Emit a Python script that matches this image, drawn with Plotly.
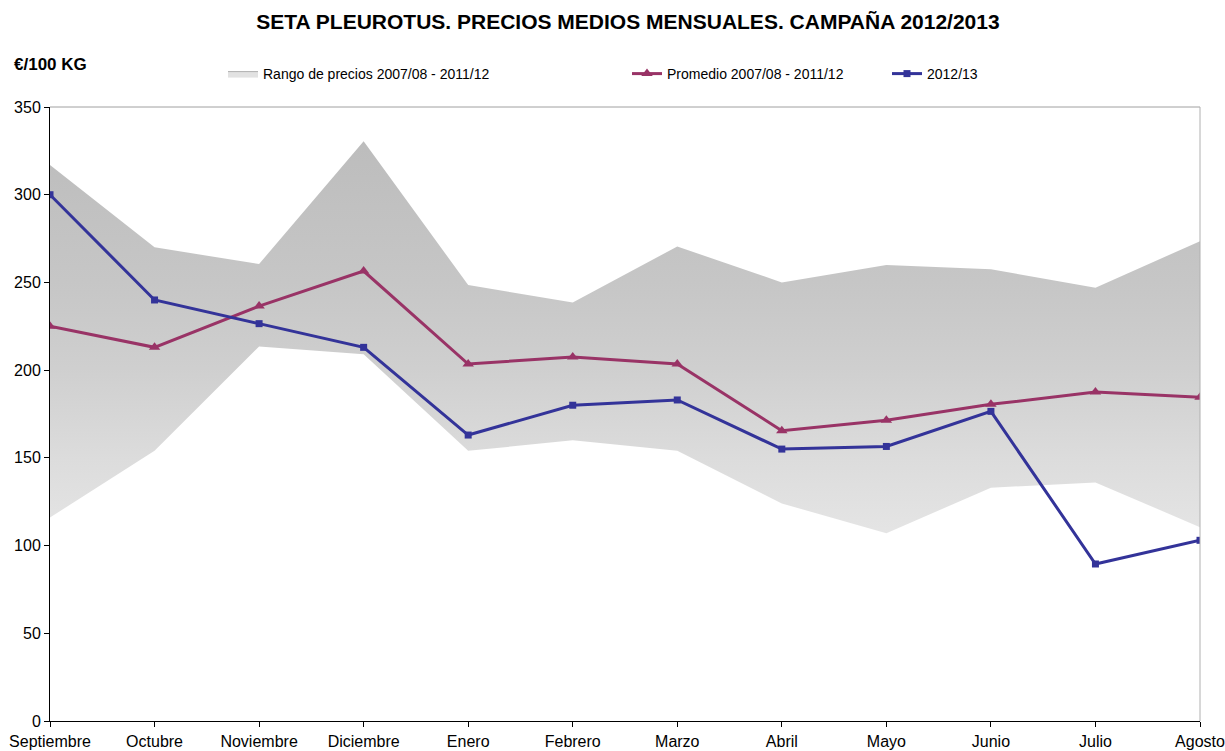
import plotly.graph_objects as go

months = ["Septiembre", "Octubre", "Noviembre", "Diciembre", "Enero", "Febrero",
          "Marzo", "Abril", "Mayo", "Junio", "Julio", "Agosto"]
range_upper = [317, 270, 260.5, 330.5, 248.5, 238.5, 270.5, 250, 260, 257.5, 247, 273.5]
range_lower = [116, 154, 213.5, 209, 154, 160, 154, 124, 107, 133, 136, 110.5]
promedio = [225, 213, 236.5, 256.5, 203.5, 207.5, 203.5, 165.5, 171.5, 180.5, 187.5, 184.5]
campana = [300, 240, 226.5, 213, 163, 180, 183, 155, 156.5, 176.5, 89.5, 103]
y_ticks = [0, 50, 100, 150, 200, 250, 300, 350]

xi = list(range(len(months)))
FONT = "Liberation Sans, Arial"

fig = go.Figure()

fig.add_trace(go.Scatter(
    x=xi + xi[::-1],
    y=range_upper + range_lower[::-1],
    fill="toself",
    mode="lines",
    line=dict(width=0, color="#cccccc"),
    fillcolor="#d0d0d0",
    fillgradient=dict(type="vertical", start=100, stop=335,
                      colorscale=[[0, "#e6e6e6"], [0.21, "#dcdcdc"], [0.43, "#cfcfcf"],
                                  [0.64, "#c6c6c6"], [1, "#bcbcbc"]]),
    showlegend=False,
    hoverinfo="skip",
))

# legend entry for the range band
fig.add_trace(go.Scatter(
    x=[None], y=[None], mode="lines", fill="toself",
    fillcolor="#e2e2e2", line=dict(width=1, color="#b0b0b0"),
    name="Rango de precios 2007/08 - 2011/12",
    legend="legend",
))

fig.add_trace(go.Scatter(
    x=xi, y=promedio, mode="lines+markers",
    line=dict(color="#993366", width=3),
    marker=dict(symbol="triangle-up", size=10, color="#993366"),
    name="Promedio 2007/08 - 2011/12",
    legend="legend2",
))

fig.add_trace(go.Scatter(
    x=xi, y=campana, mode="lines+markers",
    line=dict(color="#333399", width=3),
    marker=dict(symbol="square", size=7, color="#333399"),
    name="2012/13",
    legend="legend3",
))

W, H = 1225, 751
ml, mr, mt, mb = 50, 25, 107, 30
pw = W - ml - mr

legend_common = dict(orientation="h", yanchor="middle", xanchor="left",
                     xref="container", yref="container", y=1 - 74 / H,
                     font=dict(family=FONT, size=14, color="#000"),
                     bgcolor="rgba(0,0,0,0)", itemwidth=30, tracegroupgap=0)

fig.update_layout(
    width=W, height=H,
    margin=dict(l=ml, r=mr, t=mt, b=mb, autoexpand=False),
    paper_bgcolor="white",
    plot_bgcolor="white",
    font=dict(family=FONT, color="#000"),
    title=dict(text="<b>SETA PLEUROTUS. PRECIOS MEDIOS MENSUALES. CAMPAÑA 2012/2013</b>",
               x=628 / W, xanchor="center", xref="container",
               y=1 - 22 / H, yanchor="middle", yref="container",
               font=dict(size=21, color="#000", family=FONT)),
    legend=dict(**legend_common, x=223 / W),
    legend2=dict(**legend_common, x=627 / W),
    legend3=dict(**legend_common, x=887 / W),
    xaxis=dict(
        range=[0, 11], tickmode="array", tickvals=xi, ticktext=months,
        showgrid=False, zeroline=False, automargin=False,
        showline=True, linecolor="#000", linewidth=1,
        ticks="outside", ticklen=5, tickcolor="#000",
        ticklabelstandoff=1, ticklabeloverflow="allow",
        tickfont=dict(size=16, family=FONT, color="#000"),
    ),
    yaxis=dict(
        range=[0, 350], tickmode="array", tickvals=y_ticks,
        showgrid=False, zeroline=False, automargin=False,
        showline=True, linecolor="#000", linewidth=1,
        ticks="outside", ticklen=5, tickcolor="#000",
        tickfont=dict(size=16, family=FONT, color="#000"),
    ),
    annotations=[dict(text="<b>€/100 KG</b>", xref="paper", yref="paper",
                      x=-38 / pw, y=1 + (107 - 65) / (H - mt - mb),
                      xanchor="left", yanchor="middle", showarrow=False,
                      font=dict(size=17, family=FONT, color="#000"))],
    shapes=[
        dict(type="line", xref="paper", yref="paper", x0=0, x1=1, y0=1, y1=1,
             line=dict(color="#a0a0a0", width=1), layer="above"),
        dict(type="line", xref="paper", yref="paper", x0=1, x1=1, y0=0, y1=1,
             line=dict(color="#b0b0b0", width=1), layer="above"),
    ],
)

fig.write_html("out.html", config={"displayModeBar": False},
               post_script="document.body.style.margin='0px';document.body.style.overflow='hidden';")
